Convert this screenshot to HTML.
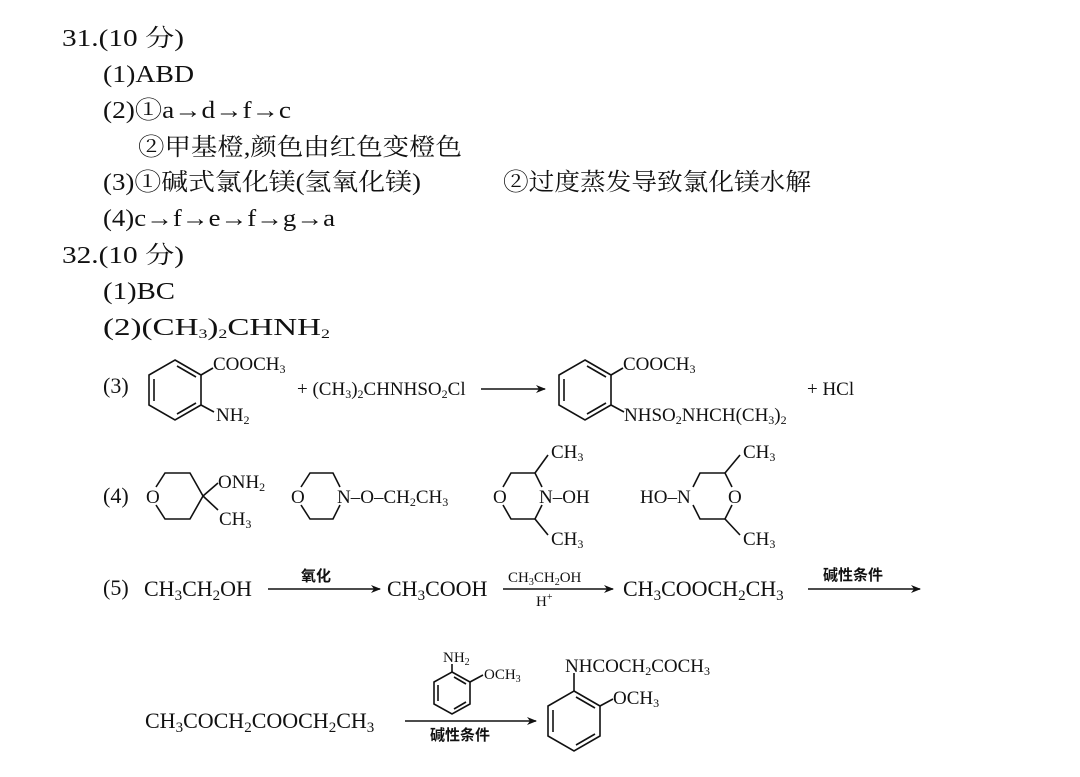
<!DOCTYPE html>
<html><head><meta charset="utf-8"><style>
html,body{margin:0;padding:0;background:#fff;}
svg{display:block;}
text{font-family:"Liberation Serif","Noto Serif CJK SC",serif;fill:#111;}
.c{font-size:22px;}
.t{font-size:24px;}
.m{font-size:19px;}
.s{font-size:15px;}
.b{font-family:"Noto Sans CJK SC",sans-serif;font-size:15px;font-weight:bold;}
line,polyline,polygon{stroke:#111;stroke-width:1.6;fill:none;}
</style></head><body>
<svg width="1080" height="777" viewBox="0 0 1080 777" xmlns="http://www.w3.org/2000/svg">
<defs><marker id="ah" markerWidth="10" markerHeight="8" refX="9" refY="4" orient="auto" markerUnits="userSpaceOnUse"><path d="M0,0 L10,4 L0,8 L3,4 Z" fill="#111"/></marker></defs>

<text class="t" x="62" y="46" textLength="122" lengthAdjust="spacingAndGlyphs">31.(10 分)</text>
<text class="t" x="103" y="82" textLength="91" lengthAdjust="spacingAndGlyphs">(1)ABD</text>
<text class="t" x="103" y="118" textLength="188" lengthAdjust="spacingAndGlyphs">(2)①a→d→f→c</text>
<text class="t" x="138" y="155" textLength="324" lengthAdjust="spacingAndGlyphs">②甲基橙,颜色由红色变橙色</text>
<text class="t" x="103" y="190" textLength="318" lengthAdjust="spacingAndGlyphs">(3)①碱式氯化镁(氢氧化镁)</text>
<text class="t" x="503" y="190" textLength="308" lengthAdjust="spacingAndGlyphs">②过度蒸发导致氯化镁水解</text>
<text class="t" x="103" y="226" textLength="232" lengthAdjust="spacingAndGlyphs">(4)c→f→e→f→g→a</text>
<text class="t" x="62" y="263" textLength="122" lengthAdjust="spacingAndGlyphs">32.(10 分)</text>
<text class="t" x="103" y="299" textLength="72" lengthAdjust="spacingAndGlyphs">(1)BC</text>
<text class="t" x="103" y="335" textLength="227" lengthAdjust="spacingAndGlyphs">(2)(CH<tspan font-size="13" dy="3">3</tspan><tspan dy="-3">)</tspan><tspan font-size="13" dy="3">2</tspan><tspan dy="-3">CHNH</tspan><tspan font-size="13" dy="3">2</tspan></text>

<!-- (3) -->
<text class="c" x="103" y="393">(3)</text>
<g id="bz1">
<polygon points="175,360 201,375 201,405 175,420 149,405 149,375"/>
<line x1="154" y1="379" x2="154" y2="401"/>
<line x1="177" y1="366" x2="196" y2="377"/>
<line x1="177" y1="414" x2="196" y2="403"/>
<line x1="201" y1="375" x2="213" y2="368"/>
<line x1="201" y1="405" x2="214" y2="412"/>
</g>
<text class="m" x="213" y="370">COOCH<tspan font-size="12" dy="3">3</tspan></text>
<text class="m" x="216" y="421">NH<tspan font-size="12" dy="3">2</tspan></text>
<text class="m" x="297" y="395">+ (CH<tspan font-size="12" dy="3">3</tspan><tspan dy="-3">)</tspan><tspan font-size="12" dy="3">2</tspan><tspan dy="-3">CHNHSO</tspan><tspan font-size="12" dy="3">2</tspan><tspan dy="-3">Cl</tspan></text>
<line x1="481" y1="389" x2="545" y2="389" marker-end="url(#ah)"/>
<use href="#bz1" x="410" y="0"/>
<text class="m" x="623" y="370">COOCH<tspan font-size="12" dy="3">3</tspan></text>
<text class="m" x="624" y="421">NHSO<tspan font-size="12" dy="3">2</tspan><tspan dy="-3">NHCH(CH</tspan><tspan font-size="12" dy="3">3</tspan><tspan dy="-3">)</tspan><tspan font-size="12" dy="3">2</tspan></text>
<text class="m" x="807" y="395">+  HCl</text>

<!-- (4) -->
<text class="c" x="103" y="503">(4)</text>
<polyline points="156,487 165,473 190,473 203,496 190,519 165,519 156,505"/>
<text class="m" x="146" y="503">O</text>
<line x1="203" y1="496" x2="218" y2="483"/><line x1="203" y1="496" x2="218" y2="510"/>
<text class="m" x="218" y="488">ONH<tspan font-size="12" dy="3">2</tspan></text>
<text class="m" x="219" y="525">CH<tspan font-size="12" dy="3">3</tspan></text>

<polyline points="301,487 310,473 333,473 340,487"/>
<polyline points="301,505 310,519 333,519 340,505"/>
<text class="m" x="291" y="503">O</text>
<text class="m" x="337" y="503">N–O–CH<tspan font-size="12" dy="3">2</tspan><tspan dy="-3">CH</tspan><tspan font-size="12" dy="3">3</tspan></text>

<polyline points="503,487 511,473 535,473 542,487"/>
<polyline points="503,505 511,519 535,519 542,505"/>
<text class="m" x="493" y="503">O</text>
<text class="m" x="539" y="503">N–OH</text>
<line x1="535" y1="473" x2="548" y2="455"/><line x1="535" y1="519" x2="548" y2="535"/>
<text class="m" x="551" y="458">CH<tspan font-size="12" dy="3">3</tspan></text>
<text class="m" x="551" y="545">CH<tspan font-size="12" dy="3">3</tspan></text>

<text class="m" x="640" y="503">HO–N</text>
<polyline points="693,487 700,473 725,473 732,487"/>
<polyline points="693,505 700,519 725,519 732,505"/>
<text class="m" x="728" y="503">O</text>
<line x1="725" y1="473" x2="740" y2="455"/><line x1="725" y1="519" x2="740" y2="535"/>
<text class="m" x="743" y="458">CH<tspan font-size="12" dy="3">3</tspan></text>
<text class="m" x="743" y="545">CH<tspan font-size="12" dy="3">3</tspan></text>

<!-- (5) -->
<text class="c" x="103" y="595">(5)</text>
<text class="c" x="144" y="596">CH<tspan font-size="15" dy="4">3</tspan><tspan dy="-4">CH</tspan><tspan font-size="15" dy="4">2</tspan><tspan dy="-4">OH</tspan></text>
<line x1="268" y1="589" x2="380" y2="589" marker-end="url(#ah)"/>
<text class="b" x="301" y="581">氧化</text>
<text class="c" x="387" y="596">CH<tspan font-size="15" dy="4">3</tspan><tspan dy="-4">COOH</tspan></text>
<line x1="503" y1="589" x2="613" y2="589" marker-end="url(#ah)"/>
<text class="s" x="508" y="582">CH<tspan font-size="10" dy="3">3</tspan><tspan dy="-3">CH</tspan><tspan font-size="10" dy="3">2</tspan><tspan dy="-3">OH</tspan></text>
<text class="s" x="536" y="606">H<tspan font-size="10" dy="-6">+</tspan></text>
<text class="c" x="623" y="596">CH<tspan font-size="15" dy="4">3</tspan><tspan dy="-4">COOCH</tspan><tspan font-size="15" dy="4">2</tspan><tspan dy="-4">CH</tspan><tspan font-size="15" dy="4">3</tspan></text>
<line x1="808" y1="589" x2="920" y2="589" marker-end="url(#ah)"/>
<text class="b" x="823" y="580">碱性条件</text>

<!-- last row -->
<text class="c" x="145" y="728">CH<tspan font-size="15" dy="4">3</tspan><tspan dy="-4">COCH</tspan><tspan font-size="15" dy="4">2</tspan><tspan dy="-4">COOCH</tspan><tspan font-size="15" dy="4">2</tspan><tspan dy="-4">CH</tspan><tspan font-size="15" dy="4">3</tspan></text>
<line x1="405" y1="721" x2="536" y2="721" marker-end="url(#ah)"/>
<text class="b" x="430" y="740">碱性条件</text>
<polygon points="452,672 470,682 470,704 452,714 434,704 434,682"/>
<line x1="438" y1="685" x2="438" y2="701"/>
<line x1="454" y1="677" x2="466" y2="684"/>
<line x1="454" y1="709" x2="466" y2="702"/>
<line x1="452" y1="672" x2="452" y2="664"/>
<line x1="470" y1="682" x2="483" y2="675"/>
<text class="s" x="443" y="662">NH<tspan font-size="10" dy="3">2</tspan></text>
<text class="s" x="484" y="679">OCH<tspan font-size="10" dy="3">3</tspan></text>

<polygon points="574,691 600,706 600,736 574,751 548,736 548,706"/>
<line x1="553" y1="710" x2="553" y2="732"/>
<line x1="576" y1="697" x2="595" y2="708"/>
<line x1="576" y1="745" x2="595" y2="734"/>
<line x1="574" y1="691" x2="574" y2="673"/>
<line x1="600" y1="706" x2="613" y2="699"/>
<text class="m" x="565" y="672">NHCOCH<tspan font-size="12" dy="3">2</tspan><tspan dy="-3">COCH</tspan><tspan font-size="12" dy="3">3</tspan></text>
<text class="m" x="613" y="704">OCH<tspan font-size="12" dy="3">3</tspan></text>
</svg>
</body></html>
